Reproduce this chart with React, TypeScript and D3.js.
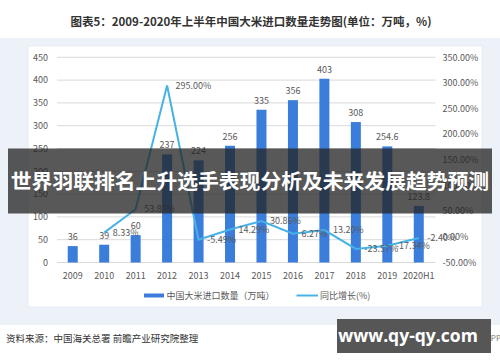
import React from 'react';
import * as d3 from 'd3';

const categories = ['2009', '2010', '2011', '2012', '2013', '2014', '2015', '2016', '2017', '2018', '2019', '2020H1'];
const importValues = [36, 39, 60, 237, 224, 256, 335, 356, 403, 308, 254.6, 123.8];
const growthValues: (number | null)[] = [null, 8.33, 53.85, 295.0, -5.49, 14.29, 30.86, 6.27, 13.2, -23.57, -17.34, -2.4];
const leftTicks = [0, 50, 100, 150, 200, 250, 300, 350, 400, 450];
const rightTicks = [-50, 0, 50, 100, 150, 200, 250, 300, 350];

const titleText = '图表5：2009-2020年上半年中国大米进口数量走势图(单位：万吨，%)';
const legendBar = '中国大米进口数量（万吨）';
const legendLine = '同比增长(%)';
const sourceText = '资料来源：中国海关总署 前瞻产业研究院整理';
const overlayText = '世界羽联排名上升选手表现分析及未来发展趋势预测';
const siteText = 'www.qy-qy.com';

const FONT = '"Noto Sans CJK SC", "Noto Sans", sans-serif';
const BAR = '#3b7ddb';
const LINE = '#47b2e6';
const TXT = '#595959';

export default function App() {
  const plotL = 57, plotR = 434.5, plotT = 57.3, plotB = 262.5;
  const x = d3.scalePoint<string>().domain(categories).range([plotL, plotR]).padding(0.5);
  const yL = d3.scaleLinear().domain([0, 450]).range([plotB, plotT]);
  const yR = d3.scaleLinear().domain([-50, 350]).range([plotB, plotT]);
  const barW = 10;

  const pts = categories
    .map((c, i) => ({ c, v: growthValues[i] }))
    .filter((d) => d.v !== null) as { c: string; v: number }[];
  const line = d3.line<{ c: string; v: number }>().x((d) => x(d.c)!).y((d) => yR(d.v));

  return (
    <svg width={500} height={362} style={{ position: 'absolute', left: 0, top: 0 }} fontFamily={FONT}>
      <rect x={0} y={0} width={500} height={362} fill="#ffffff" />
      <text x={251} y={25.5} textAnchor="middle" fontSize={11.5} fontWeight="bold" fill="#333">{titleText}</text>
      <rect x={0} y={38} width={500} height={287} fill="#edf1f8" />
      <rect x={28} y={46} width={454} height={261} fill="#ffffff" stroke="#e3e8f0" strokeWidth={0.8} />

      {leftTicks.map((t) => (
        <g key={'l' + t}>
          <line x1={plotL} x2={plotR + 1} y1={yL(t)} y2={yL(t)} stroke="#d9d9d9" strokeWidth={1} />
          <text x={48} y={yL(t) + 3.2} textAnchor="end" fontSize={9} fill={TXT}>{t}</text>
        </g>
      ))}
      {rightTicks.map((t) => (
        <text key={'r' + t} x={442.5} y={yR(t) + 3.2} fontSize={9} fill={TXT}>{t.toFixed(2) + '%'}</text>
      ))}

      {categories.map((c, i) => (
        <g key={c}>
          <rect x={x(c)! - barW / 2} y={yL(importValues[i])} width={barW} height={plotB - yL(importValues[i])} fill={BAR} />
          <text x={x(c)!} y={yL(importValues[i]) - 6} textAnchor="middle" fontSize={9} fill={TXT}>{String(importValues[i])}</text>
          <text x={x(c)!} y={279} textAnchor="middle" fontSize={9} fill={TXT}>{c}</text>
        </g>
      ))}

      <path d={line(pts) || ''} fill="none" stroke={LINE} strokeWidth={2} strokeLinejoin="miter" />
      {pts.map((d) => (
        <text key={'g' + d.c} x={x(d.c)! + 8.5} y={yR(d.v) + 3.2} fontSize={9} fill={TXT}>{d.v.toFixed(2) + '%'}</text>
      ))}

      <rect x={144} y={293.5} width={20} height={4} fill={BAR} />
      <text x={166.5} y={299} fontSize={9} fill={TXT}>{legendBar}</text>
      <line x1={296.5} x2={318} y1={295.5} y2={295.5} stroke={LINE} strokeWidth={2} />
      <text x={320} y={299} fontSize={9} fill={TXT}>{legendLine}</text>

      <text x={6} y={341.5} fontSize={9.5} fill="#333">{sourceText}</text>
      <text x={501} y={341} textAnchor="end" fontSize={8} fill="#777">前瞻经济学人APP</text>

      <rect x={8} y={148.5} width={484} height={65} fill="rgba(35,35,35,0.76)" />
      <text x={250} y={188.5} textAnchor="middle" fontSize={20.8} fontWeight="bold" fill="#ffffff">{overlayText}</text>

      <rect x={337} y={319} width={154} height={34} fill="#565656" />
      <text x={408} y={342} textAnchor="middle" fontSize={17.5} fontWeight="bold" fill="#ffffff" fontFamily='"Open Sans", "DejaVu Sans", sans-serif'>{siteText}</text>
    </svg>
  );
}
